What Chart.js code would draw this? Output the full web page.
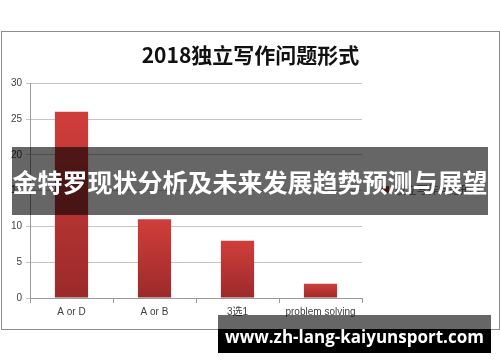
<!DOCTYPE html>
<html>
<head>
<meta charset="utf-8">
<script src="https://cdn.jsdelivr.net/npm/chart.js@4"></script>
<style>
  html, body { margin: 0; padding: 0; background: #fff; }
  body { width: 500px; height: 362px; position: relative; overflow: hidden; }
  .frame {
    position: absolute; left: 1px; top: 31px; width: 497px; height: 297px;
    border: 1px solid #8c8c8c; background: #fff;
  }
  .frame canvas { position: absolute; left: 0; top: 0; }
  .banner {
    position: absolute; left: 12px; top: 147px; width: 476px; height: 68px;
    background: rgba(0, 0, 0, 0.6); color: #fff;
    font: bold 25px "Noto Sans CJK SC", sans-serif;
    line-height: 68px; text-align: center; letter-spacing: 0;
  }
  .mark-top {
    position: absolute; left: 218px; top: 315px; width: 273px; height: 14px;
    background: rgba(0, 0, 0, 0.6);
  }
  .mark {
    position: absolute; left: 218px; top: 329px; width: 273px; height: 24px;
    background: #000;
  }
  .mark-text {
    position: absolute; left: 218px; top: 322px; width: 273px; height: 30px;
    color: #fff; font: bold 17px "Open Sans", sans-serif;
    line-height: 30px; text-align: center;
  }
</style>
</head>
<body>
<div class="frame"><canvas id="chart" width="497" height="297"></canvas></div>
<div class="banner">金特罗现状分析及未来发展趋势预测与展望</div>
<div class="mark-top"></div>
<div class="mark"></div>
<div class="mark-text">www.zh-lang-kaiyunsport.com</div>
<script>
const title = '2018独立写作问题形式';
const seriesName = '独立写作问题形式';
const categories = ['A or D', 'A or B', '3选1', 'problem solving'];
const counts = [26, 11, 8, 2];
const yTicks = [0, 5, 10, 15, 20, 25, 30];

const tickFont = { family: '"Liberation Sans", "Noto Sans CJK SC", sans-serif', size: 10 };

function barFill(ctx) {
  const chart = ctx.chart;
  const area = chart.chartArea;
  if (!area || ctx.type !== 'data') return '#c33a37';
  const y = chart.scales.y;
  const top = y.getPixelForValue(ctx.raw);
  const bottom = y.getPixelForValue(0);
  const g = chart.ctx.createLinearGradient(0, top, 0, bottom);
  g.addColorStop(0, '#d03e3b');
  g.addColorStop(1, '#9b2a2a');
  return g;
}

new Chart(document.getElementById('chart'), {
  type: 'bar',
  data: {
    labels: categories,
    datasets: [{
      label: seriesName,
      data: counts,
      backgroundColor: barFill,
      barPercentage: 0.4,
      categoryPercentage: 1,
    }],
  },
  options: {
    responsive: false,
    animation: false,
    events: [],
    plugins: {
      title: {
        display: true,
        text: title,
        color: '#111',
        font: { family: '"Noto Sans CJK SC", sans-serif', size: 21, weight: 'bold', lineHeight: 1.2 },
        padding: { top: 10, bottom: 16 },
      },
      legend: {
        display: true,
        position: 'right',
        maxWidth: 137,
        // blank title only nudges the single legend item a little lower
        title: { display: true, text: ' ', font: { size: 10, lineHeight: 1 }, padding: 4 },
        labels: {
          boxWidth: 7,
          boxHeight: 7,
          padding: 20,
          color: '#333',
          font: { family: '"Noto Sans CJK SC", sans-serif', size: 11 },
          // trailing spaces make the legend reach maxWidth so the plot ends where the reference does
          generateLabels: () => [{
            text: seriesName + '\u3000\u3000\u3000 ',
            fillStyle: '#b83432',
            strokeStyle: '#b83432',
            lineWidth: 0,
            datasetIndex: 0,
          }],
        },
      },
      tooltip: { enabled: false },
    },
    scales: {
      x: {
        afterFit: (s) => { s.height = 31; },
        grid: { display: true, drawOnChartArea: false, offset: true, tickLength: 5, color: '#9a9a9a' },
        border: { color: '#9a9a9a' },
        ticks: { color: '#404040', font: tickFont, padding: 3, maxRotation: 0, autoSkip: false },
      },
      y: {
        min: 0,
        max: 30,
        afterFit: (s) => { s.width = 28; },
        afterBuildTicks: (s) => { s.ticks = yTicks.map((v) => ({ value: v })); },
        grid: { color: '#c4c4c4', tickLength: 4 },
        border: { color: '#9a9a9a' },
        ticks: { color: '#404040', font: tickFont, padding: 4 },
      },
    },
  },
});
</script>
</body>
</html>
